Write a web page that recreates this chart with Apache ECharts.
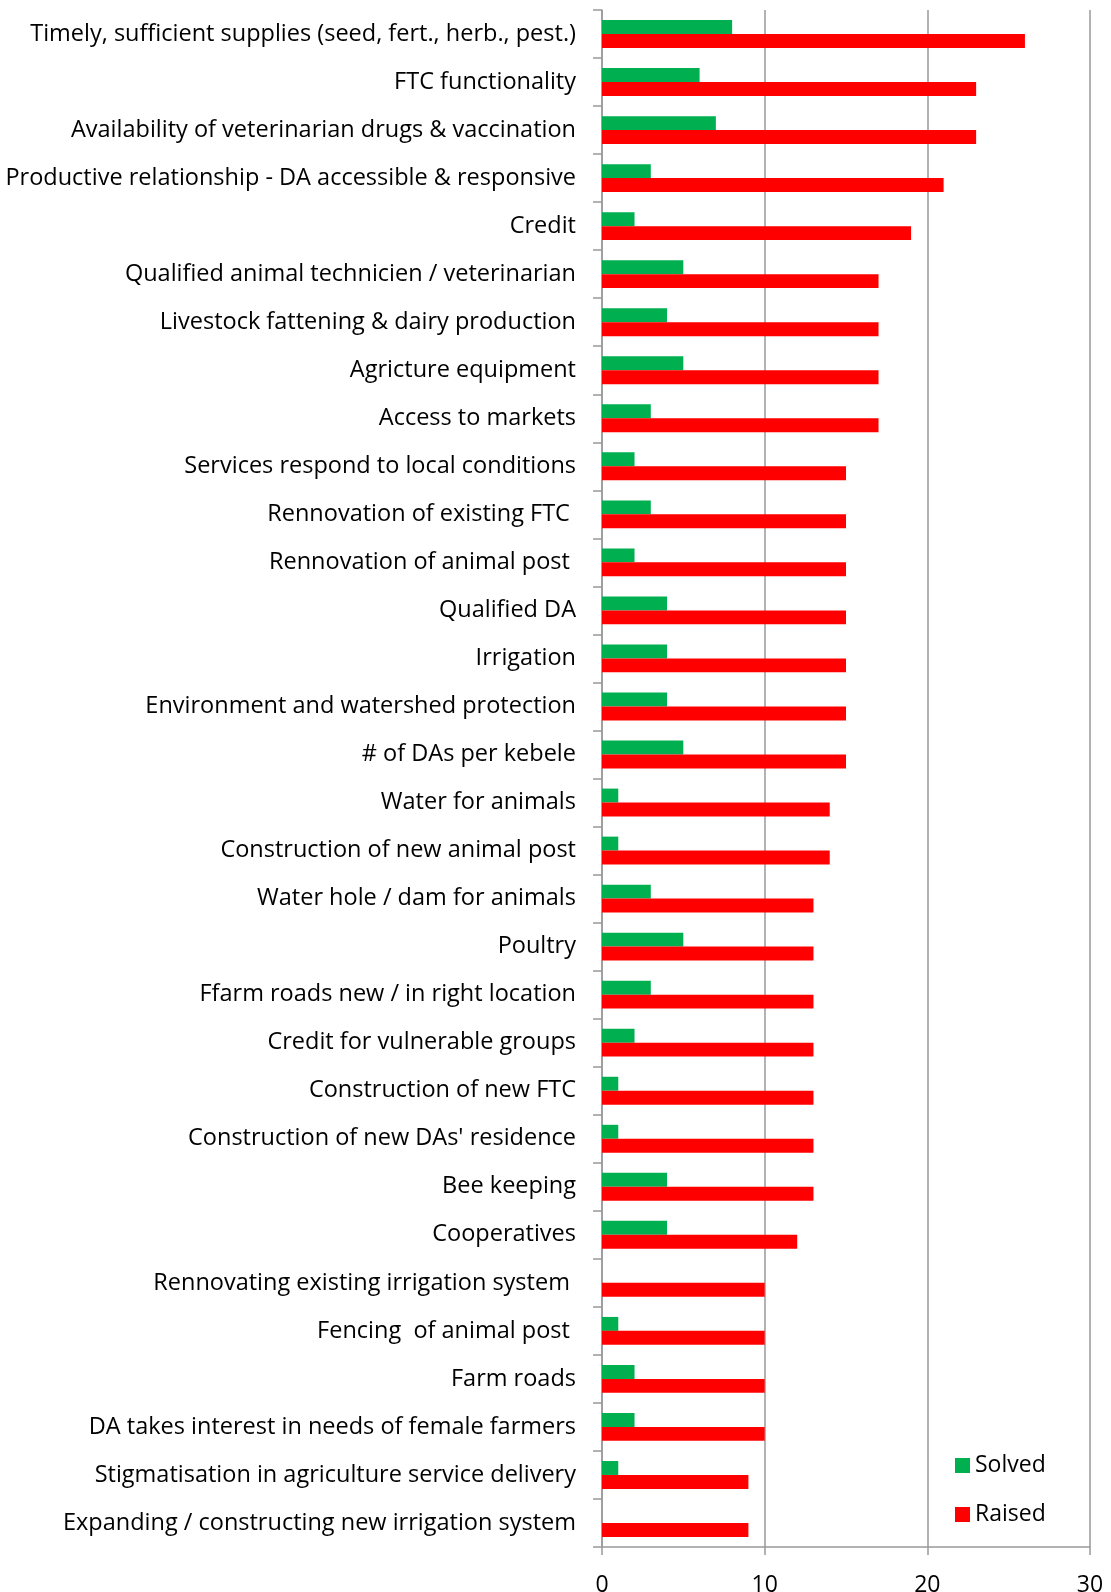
<!DOCTYPE html>
<html>
<head>
<meta charset="utf-8">
<script src="https://cdn.jsdelivr.net/npm/echarts@6/dist/echarts.min.js"></script>
<style>
  html, body { margin: 0; padding: 0; background: #ffffff; }
  #chart { width: 1111px; height: 1592px; }
</style>
</head>
<body>
<div id="chart"></div>
<script>
// Issues raised by communities and how many of them were solved
const categories = [
  'Timely, sufficient supplies (seed, fert., herb., pest.)',
  'FTC functionality',
  'Availability of veterinarian drugs & vaccination',
  'Productive relationship - DA accessible & responsive',
  'Credit',
  'Qualified animal technicien / veterinarian',
  'Livestock fattening & dairy production',
  'Agricture equipment',
  'Access to markets',
  'Services respond to local conditions',
  'Rennovation of existing FTC ',
  'Rennovation of animal post ',
  'Qualified DA',
  'Irrigation',
  'Environment and watershed protection',
  '# of DAs per kebele',
  'Water for animals',
  'Construction of new animal post',
  'Water hole / dam for animals',
  'Poultry',
  'Ffarm roads new / in right location',
  'Credit for vulnerable groups',
  'Construction of new FTC',
  "Construction of new DAs' residence",
  'Bee keeping',
  'Cooperatives',
  'Rennovating existing irrigation system ',
  'Fencing  of animal post ',
  'Farm roads',
  'DA takes interest in needs of female farmers',
  'Stigmatisation in agriculture service delivery',
  'Expanding / constructing new irrigation system'
];

const solved = [8, 6, 7, 3, 2, 5, 4, 5, 3, 2, 3, 2, 4, 4, 4, 5, 1, 1, 3, 5, 3, 2, 1, 1, 4, 4, 0, 1, 2, 2, 1, 0];
const raised = [26, 23, 23, 21, 19, 17, 17, 17, 17, 15, 15, 15, 15, 15, 15, 15, 14, 14, 13, 13, 13, 13, 13, 13, 13, 12, 10, 10, 10, 10, 9, 9];

const xTicks = [0, 10, 20, 30];

const FONT = '"Open Sans", Lato, sans-serif';
const GRID_GREY = '#999999';

const chart = echarts.init(document.getElementById('chart'), null, { renderer: 'canvas' });

chart.setOption({
  animation: false,
  backgroundColor: '#ffffff',
  grid: { left: 602, right: 21, top: 10, bottom: 45, containLabel: false, outerBoundsMode: 'none' },
  legend: {
    orient: 'vertical',
    left: 950,
    top: 1449,
    itemWidth: 15,
    itemHeight: 15,
    itemGap: 26,
    icon: 'rect',
    textStyle: { fontFamily: FONT, fontSize: 23, color: '#000000' },
    data: ['Solved', 'Raised']
  },
  xAxis: {
    type: 'value',
    min: xTicks[0],
    max: xTicks[xTicks.length - 1],
    interval: 10,
    axisLine: { show: true, lineStyle: { color: GRID_GREY, width: 1.5 } },
    axisTick: { show: true, length: 8, lineStyle: { color: GRID_GREY, width: 1.5 } },
    splitLine: { show: true, lineStyle: { color: GRID_GREY, width: 1.5 } },
    axisLabel: { fontFamily: FONT, fontSize: 23, color: '#000000', margin: 27 }
  },
  yAxis: {
    type: 'category',
    inverse: true,
    data: categories,
    boundaryGap: true,
    axisLine: { show: true, lineStyle: { color: GRID_GREY, width: 1.5 } },
    axisTick: { show: true, inside: false, length: 9, alignWithLabel: false, lineStyle: { color: GRID_GREY, width: 1.5 } },
    splitLine: { show: false },
    axisLabel: { fontFamily: FONT, fontSize: 23.5, color: '#000000', margin: 26, interval: 0, padding: [4, 0, 0, 0] }
  },
  series: [
    {
      name: 'Solved',
      type: 'bar',
      data: solved,
      barGap: '0%',
      barCategoryGap: '42%',
      itemStyle: { color: '#00B050' }
    },
    {
      name: 'Raised',
      type: 'bar',
      data: raised,
      barGap: '0%',
      barCategoryGap: '42%',
      itemStyle: { color: '#FF0000' }
    }
  ]
});
</script>
</body>
</html>
